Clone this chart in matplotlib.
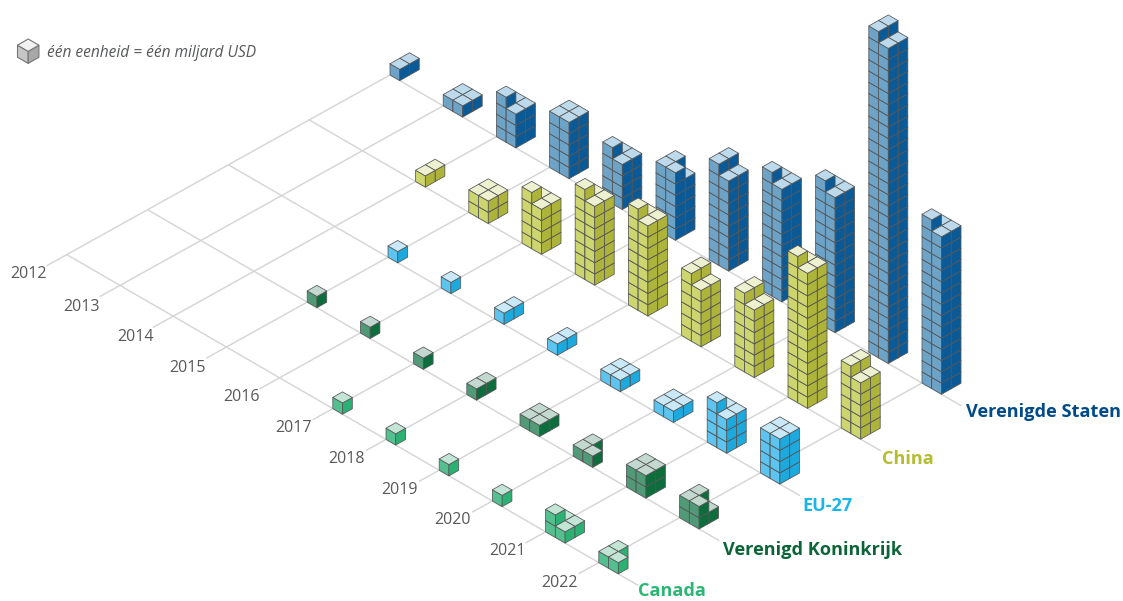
import matplotlib
matplotlib.use("Agg")
import matplotlib.pyplot as plt
from matplotlib.collections import PolyCollection

# ---- data: billions of USD per year, series from front (left) to back (right)
years = [2012, 2013, 2014, 2015, 2016, 2017, 2018, 2019, 2020, 2021, 2022]
canada = [0, 0, 0, 0, 0, 1, 1, 1, 1, 5, 3]
united_kingdom = [0, 0, 0, 1, 1, 1, 2, 4, 3, 8, 7]
eu27 = [0, 0, 0, 1, 1, 2, 2, 4, 4, 13, 16]
china = [0, 0, 2, 8, 17, 29, 33, 22, 26, 49, 22]
united_states = [2, 4, 13, 20, 17, 23, 34, 41, 49, 114, 57]

series_names = ["Canada", "Verenigd Koninkrijk", "EU-27", "China", "Verenigde Staten"]
series_values = [canada, united_kingdom, eu27, china, united_states]
label_colors = ["#2bb673", "#0b6437", "#1cb5e8", "#b4bc2f", "#004b87"]
top_colors = ["#c3e5d5", "#c3d8cf", "#c9e9f8", "#eef1d0", "#bcdaeb"]
left_colors = ["#55c08f", "#519a78", "#5cc4ee", "#cdd56f", "#6ea3c8"]
right_colors = ["#2bb174", "#0e6d3d", "#1ba9de", "#aeb43a", "#0a5a98"]
legend_text = "één eenheid = één miljard USD"

# ---- oblique projection
ORIGIN = (390.0, 75.0)      # 2012 on the rear series line
YEAR_STEP = (53.2, 30.8)
SERIES_STEP = (80.8, -44.9)
CU = (9.75, 5.64)
CV = (9.75, -5.5)
CH = 11.25
FILL = [(0, 0), (0, 1), (1, 0), (1, 1)]
COL_ORDER = [(0, 1), (0, 0), (1, 1), (1, 0)]


def ground(i, j):
    back = len(series_names) - 1 - j
    return (ORIGIN[0] + i * YEAR_STEP[0] - back * SERIES_STEP[0],
            ORIGIN[1] + i * YEAR_STEP[1] - back * SERIES_STEP[1])


def cube_faces(x, y, hu=CU, hv=CV, h=CH):
    """x, y: left vertex of the cube's floor."""
    a = (x, y)
    b = (x + hu[0], y + hu[1])
    c = (x + hu[0] + hv[0], y + hu[1] + hv[1])
    d = (x + hv[0], y + hv[1])
    up = lambda p: (p[0], p[1] - h)
    left = [a, b, up(b), up(a)]
    right = [b, c, up(c), up(b)]
    top = [up(a), up(b), up(c), up(d)]
    return top, left, right


fig = plt.figure(figsize=(11.23, 6.01), dpi=100)
ax = fig.add_axes([0, 0, 1, 1])
ax.set_xlim(0, 1123)
ax.set_ylim(601, 0)
ax.axis("off")

# ---- grid
GRID = "#d4d4d4"
n_y, n_s = len(years), len(series_names)
for i in range(n_y):
    x0, y0 = ground(i, 0)
    x1, y1 = ground(i, n_s - 1)
    f = 0.25
    ax.plot([x0 - f * SERIES_STEP[0], x1], [y0 - f * SERIES_STEP[1], y1],
            color=GRID, lw=1.0, zorder=1, solid_capstyle="butt")
for j in range(n_s):
    x0, y0 = ground(0, j)
    x1, y1 = ground(n_y - 1, j)
    f = 0.745
    ax.plot([x0, x1 + f * YEAR_STEP[0]], [y0, y1 + f * YEAR_STEP[1]],
            color=GRID, lw=1.0, zorder=1, solid_capstyle="butt")

# ---- cubes, back to front
bars = sorted((ground(i, j)[1], i, j) for i in range(n_y) for j in range(n_s))
z = 2
for _, i, j in bars:
    value = series_values[j][i]
    if value == 0:
        continue
    layers, rem = divmod(value, 4)
    heights = {pos: layers + (k < rem) for k, pos in enumerate(FILL)}
    gx, gy = ground(i, j)
    polys, cols = [], []
    for a, b in COL_ORDER:
        for level in range(heights[(a, b)]):
            x = gx + a * CU[0] + b * CV[0]
            y = gy + a * CU[1] + b * CV[1] - level * CH
            top, left, right = cube_faces(x, y)
            polys += [left, right, top]
            cols += [left_colors[j], right_colors[j], top_colors[j]]
    coll = PolyCollection(polys, facecolors=cols, edgecolors="#555555",
                          linewidths=0.55, zorder=z)
    coll.set_snap(False)
    ax.add_collection(coll)
    z += 1

# ---- text
FONT = "Open Sans"
year_x = [47, 100, 154, 206, 260, 312, 365, 418, 471, 526, 578]
year_y = [274, 307, 337, 368, 397, 428, 459, 490, 520, 551, 583]
for yr, x, y in zip(years, year_x, year_y):
    ax.text(x, y, str(yr), ha="right", va="center", fontsize=11.5, color="#58595b",
            family=FONT, zorder=500)

name_x = [638, 723, 802, 882, 966]
name_y = [596.3, 555, 511, 464, 417]
for name, x, y, c in zip(series_names, name_x, name_y, label_colors):
    ax.text(x, y, name, ha="left", va="baseline", fontsize=13.1, color=c, weight="bold",
            family=FONT, zorder=500)

# ---- legend
top, left, right = cube_faces(17.5, 57.2, hu=(10.7, 6.2), hv=(10.7, -6.2), h=12.0)
leg = PolyCollection([left, right, top], facecolors=["#c6c6c6", "#a8a8a8", "#f1f1f1"],
                     edgecolors="#757575", linewidths=0.8, zorder=500)
leg.set_snap(False)
ax.add_collection(leg)
ax.text(47, 53, legend_text, ha="left", va="center", fontsize=11.2, style="italic",
        color="#58595b", family=FONT, zorder=500)

fig.savefig("out.png", dpi=100)
